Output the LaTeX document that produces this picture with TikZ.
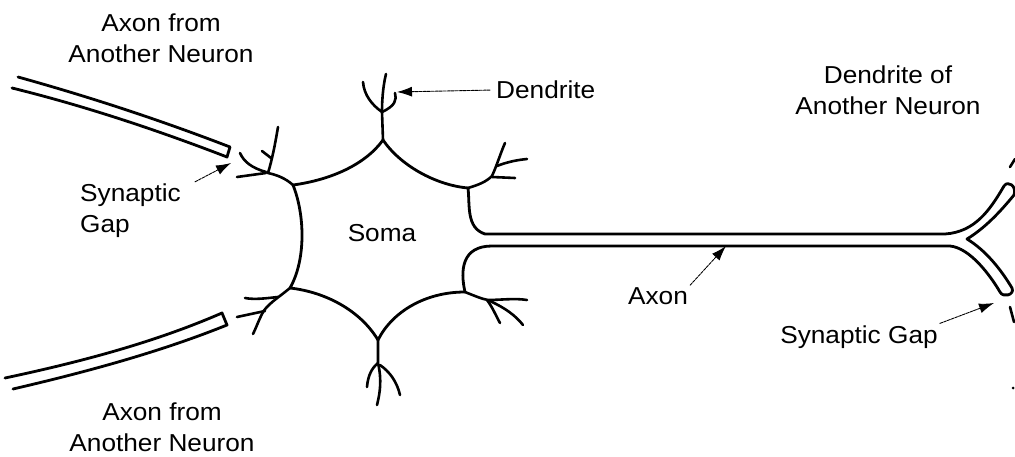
\documentclass[tikz,border=0pt]{standalone}
\usepackage{fontspec}
\setmainfont{Liberation Sans}[FakeStretch=1.07]
\usetikzlibrary{arrows.meta}

\begin{document}
\begin{tikzpicture}[x=1pt,y=-1pt,line cap=round,line join=round,
  membrane/.style={line width=2.8pt},
  twig/.style={line width=2.6pt},
  lbl/.style={font=\fontsize{24.5}{31}\selectfont,inner sep=2pt},
  pointer/.style={-{Latex[length=15pt,width=10pt]},line width=0.9pt,dash pattern=on 3pt off 1pt}]
\useasboundingbox (0,0) rectangle (1015,457);

% incoming axons
\draw[membrane] (18,77) .. controls (90,97) and (160,120) .. (230,147) -- (227,157)
  .. controls (157,130) and (85,106) .. (12,88);
\draw[membrane] (5,378) .. controls (90,360) and (160,340) .. (222,313) -- (227,325)
  .. controls (165,350) and (95,370) .. (13,389);

% soma
\draw[membrane] (293,185) .. controls (330,180) and (365,165) .. (383,140)
  .. controls (400,165) and (435,185) .. (468,188);
\draw[membrane] (293,185) .. controls (305,215) and (306,260) .. (290,288)
  .. controls (325,292) and (360,310) .. (378,340)
  .. controls (392,312) and (425,292) .. (465,292);

% axon and its forked end
\draw[membrane] (468,188) .. controls (470,205) and (466,228) .. (485,234) -- (945,234)
  .. controls (975,232) and (990,210) .. (1004,186)
  .. controls (1008,180) and (1017,186) .. (1014,195)
  .. controls (1000,212) and (985,228) .. (967,239)
  .. controls (985,250) and (1000,268) .. (1012,288)
  .. controls (1015,295) and (1003,298) .. (1000,292)
  .. controls (990,275) and (970,248) .. (950,246) -- (492,246)
  .. controls (462,246) and (460,270) .. (465,292);

% dendrite tufts
\draw[twig] (383,140) -- (382,112) .. controls (372,105) and (364,95) .. (363,82);
\draw[twig] (382,112) .. controls (382,95) and (384,82) .. (386,74);
\draw[twig] (382,112) .. controls (395,106) and (397,100) .. (395,93);

\draw[twig] (293,185) .. controls (285,178) and (277,175) .. (268,173)
  .. controls (272,160) and (275,145) .. (278,127);
\draw[twig] (271,158) -- (262,151);
\draw[twig] (266,172) .. controls (252,168) and (244,162) .. (240,153);
\draw[twig] (266,173) -- (237,177);

\draw[twig] (290,288) .. controls (278,298) and (266,305) .. (262,314)
  .. controls (258,322) and (256,328) .. (253,334);
\draw[twig] (278,297) .. controls (268,298) and (255,300) .. (245,298);
\draw[twig] (265,311) -- (237,317);

\draw[twig] (468,188) .. controls (478,185) and (486,182) .. (492,176)
  .. controls (497,165) and (501,152) .. (505,143);
\draw[twig] (497,166) .. controls (507,162) and (517,160) .. (527,159);
\draw[twig] (492,177) -- (515,178);

\draw[twig] (465,292) .. controls (475,296) and (482,299) .. (488,300)
  .. controls (500,300) and (515,298) .. (527,300);
\draw[twig] (490,301) .. controls (505,308) and (515,315) .. (523,325);
\draw[twig] (487,300) .. controls (493,308) and (496,316) .. (500,323);

\draw[twig] (378,340) -- (378,363) .. controls (382,380) and (380,393) .. (377,405);
\draw[twig] (378,363) .. controls (372,368) and (368,375) .. (367,387);
\draw[twig] (380,365) .. controls (390,372) and (397,382) .. (400,395);

% bits of the next neuron at the edge
\draw[twig] (1010,167) -- (1015,159);
\draw[twig] (1010,307) -- (1014,322);
\fill (1013,388) circle (1.5pt);

% labels
\node[lbl,align=center] (axonin) at (161,38) {Axon from\\Another Neuron};
\node[lbl,align=center] (axonout) at (162,427) {Axon from\\Another Neuron};
\node[lbl,align=left,anchor=west] (gapl) at (78,211) {Synaptic\\Gap};
\node[lbl,anchor=west] (dendl) at (494,90) {Dendrite};
\node[lbl,align=center] (otherl) at (888,90) {Dendrite of\\Another Neuron};
\node[lbl] (somal) at (382,233) {Soma};
\node[lbl] (axonl) at (658,296) {Axon};
\node[lbl] (gapr) at (859,337) {Synaptic Gap};

% pointers
\coordinate (dendtip) at (397,92);
\coordinate (gapltip) at (231,163);
\coordinate (axontip) at (726,246);
\coordinate (gaprtip) at (994,303);
\draw[pointer,shorten <=4pt] (dendl.west) -- (dendtip);
\draw[pointer] ([xshift=12pt]gapl.north east) -- (gapltip);
\draw[pointer] (axonl.north east) -- (axontip);
\draw[pointer] (gapr.north east) -- (gaprtip);
\end{tikzpicture}
\end{document}
